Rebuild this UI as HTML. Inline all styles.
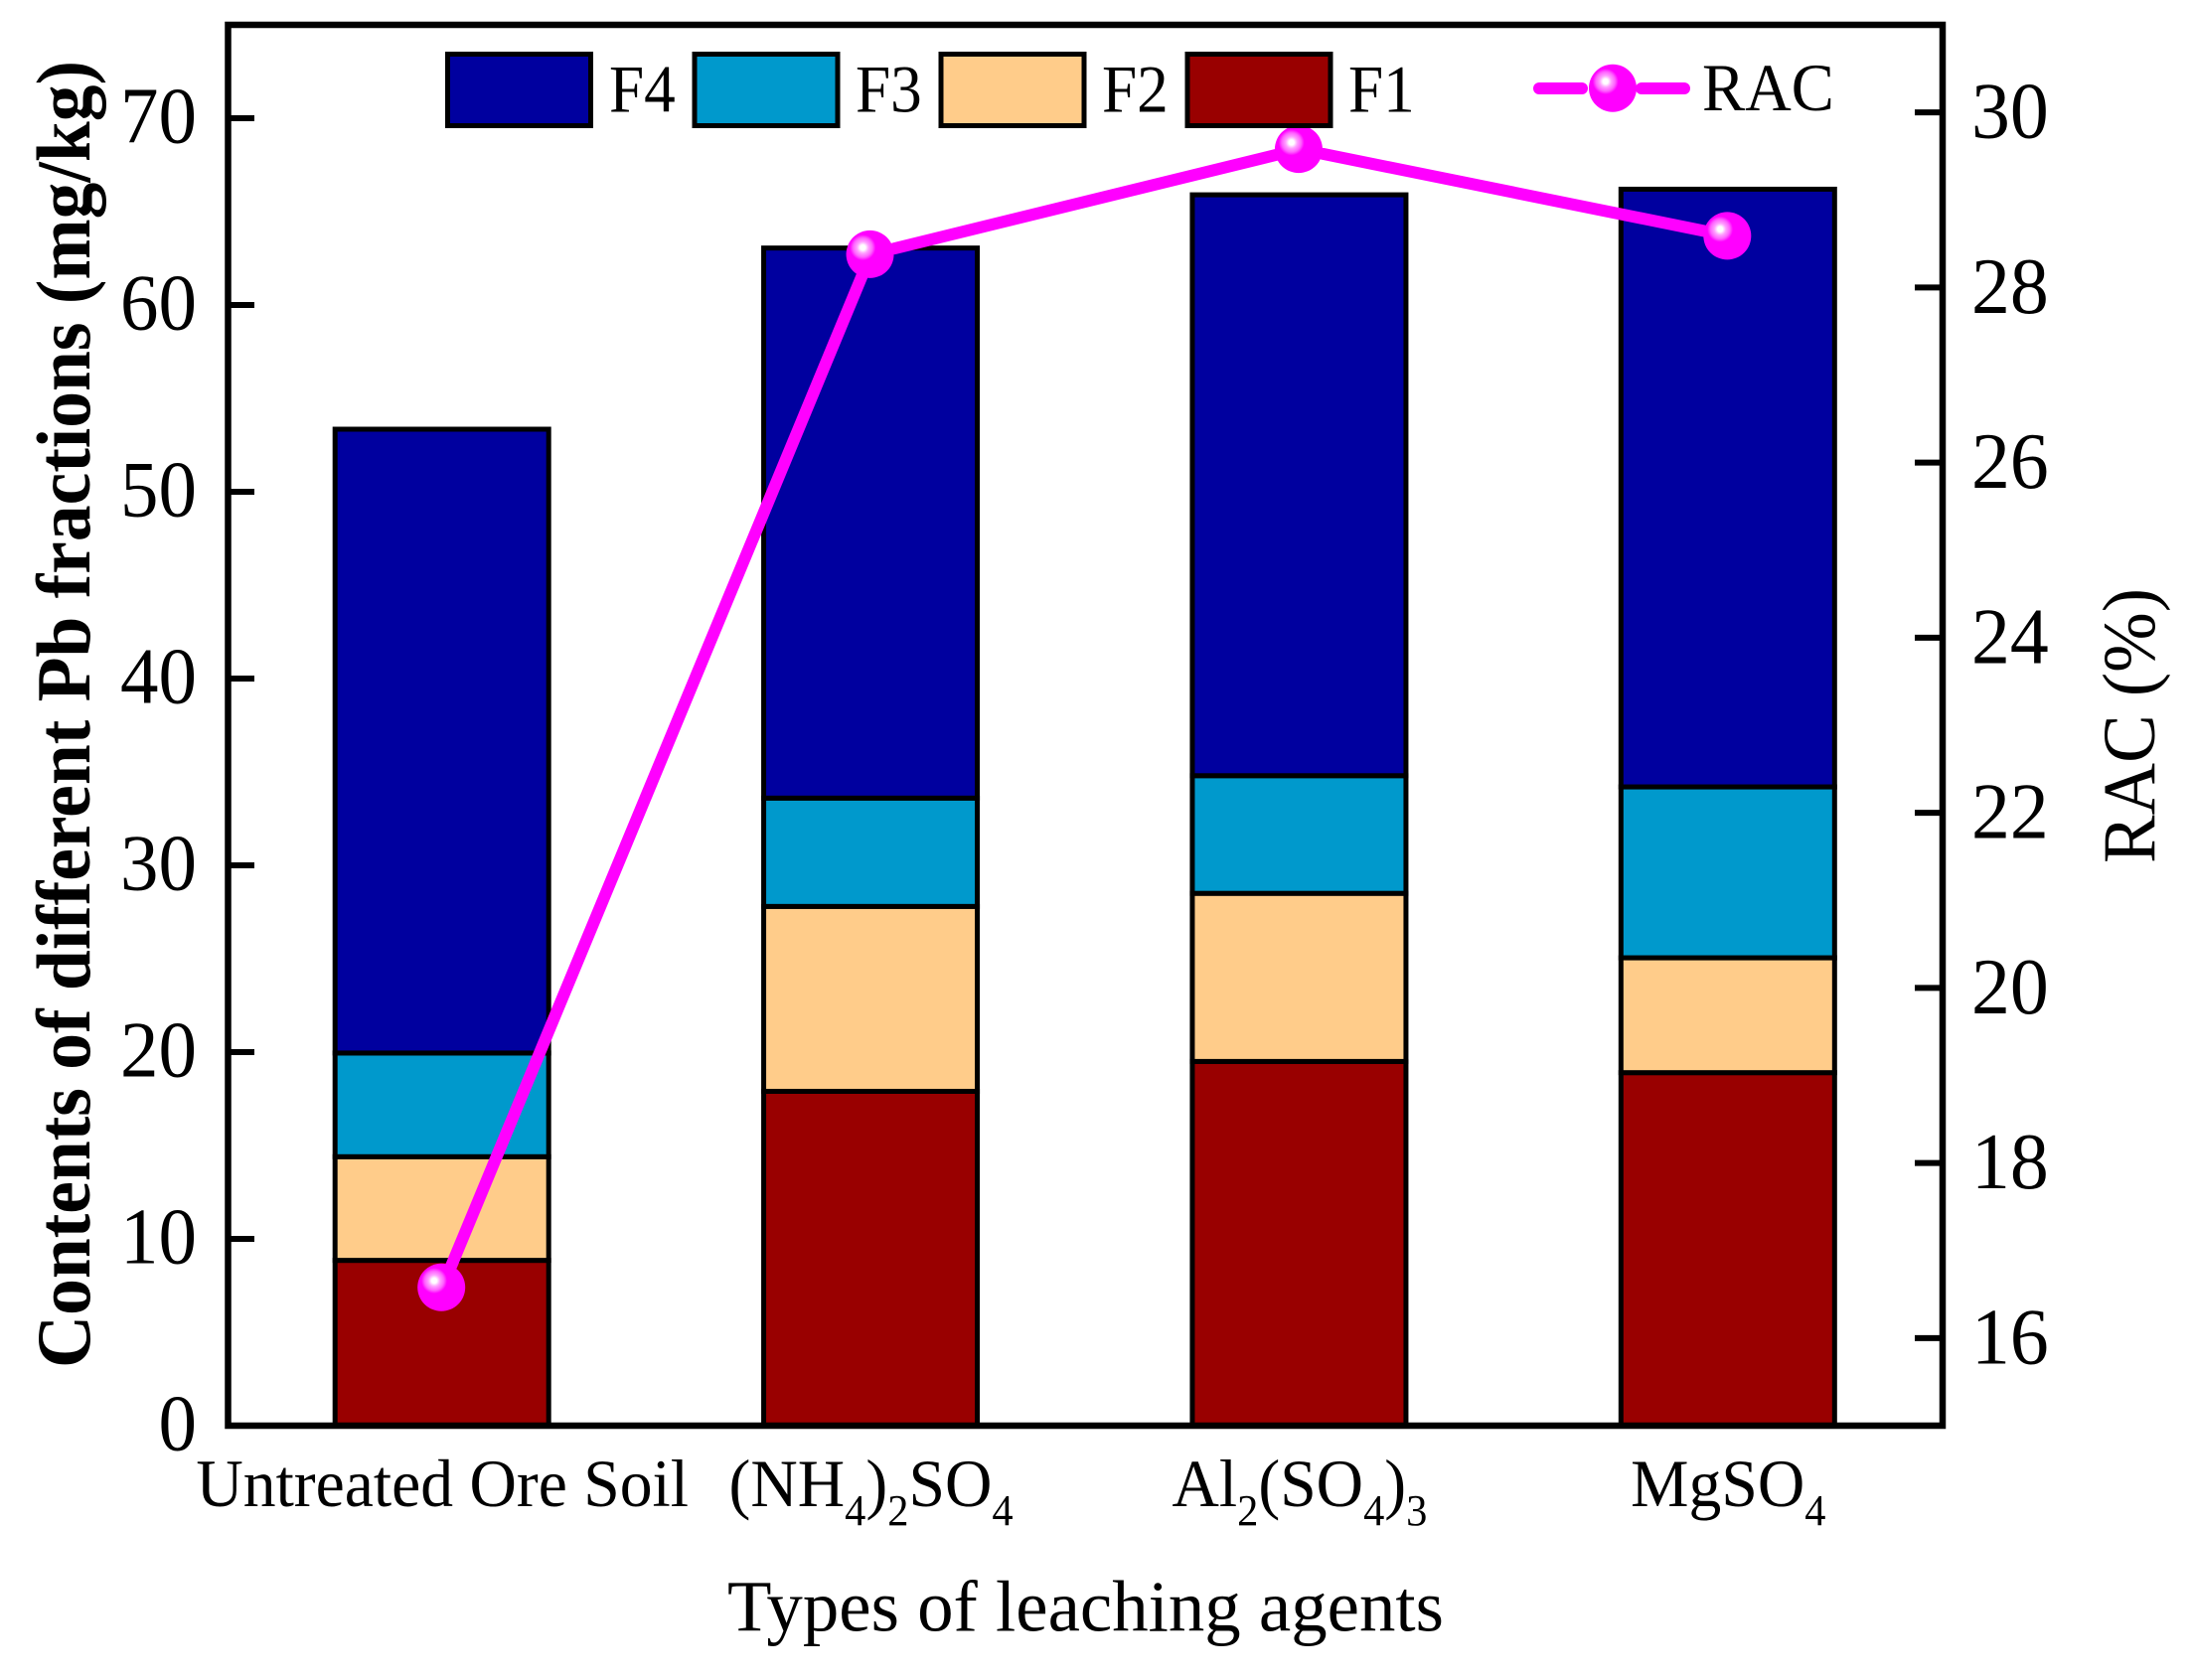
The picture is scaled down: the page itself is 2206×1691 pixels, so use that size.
<!DOCTYPE html>
<html lang="en">
<head>
<meta charset="utf-8">
<title>Pb fractions and RAC by leaching agent</title>
<style>
html,body{margin:0;padding:0;background:#fff;}
svg{display:block;}
text{font-family:"Liberation Serif",serif;fill:#000;}
</style>
</head>
<body>
<svg id="chart" xmlns="http://www.w3.org/2000/svg" width="2206" height="1691" viewBox="0 0 2206 1691">
  <defs>
    <radialGradient id="ball" cx="0.35" cy="0.36" r="0.27">
      <stop offset="0" stop-color="#ffffff"/>
      <stop offset="0.2" stop-color="#ffffff"/>
      <stop offset="0.45" stop-color="#ffa0ff"/>
      <stop offset="0.75" stop-color="#ff60ff"/>
      <stop offset="1" stop-color="#ff00ff"/>
    </radialGradient>
  </defs>
  <rect x="0" y="0" width="2206" height="1691" fill="#ffffff"/>
  <g id="bars"></g>
  <g id="rac"></g>
  <g id="ticks"></g>
  <rect x="229.5" y="25" width="1725.5" height="1410" fill="none" stroke="#000" stroke-width="6.5"/>
  <g id="labels" font-size="81"></g>

  <g>
    <rect x="450.5" y="54.5" width="144" height="72" fill="#00009f" stroke="#000" stroke-width="5"/>
    <text transform="translate(613,112.7) scale(0.93,1)" font-size="68">F4</text>
    <rect x="699" y="54.5" width="144" height="72" fill="#0099cc" stroke="#000" stroke-width="5"/>
    <text transform="translate(861,112.7) scale(0.93,1)" font-size="68">F3</text>
    <rect x="947" y="54.5" width="144" height="72" fill="#ffcc8a" stroke="#000" stroke-width="5"/>
    <text transform="translate(1109,112.7) scale(0.93,1)" font-size="68">F2</text>
    <rect x="1195" y="54.5" width="144" height="72" fill="#990000" stroke="#000" stroke-width="5"/>
    <text transform="translate(1357,112.7) scale(0.93,1)" font-size="68">F1</text>
    <line x1="1549" y1="89" x2="1592" y2="89" stroke="#ff00ff" stroke-width="12" stroke-linecap="round"/>
    <line x1="1652" y1="89" x2="1695" y2="89" stroke="#ff00ff" stroke-width="12" stroke-linecap="round"/>
    <circle cx="1623" cy="88.7" r="24" fill="url(#ball)"/>
    <text transform="translate(1713,111) scale(0.95,1)" font-size="68">RAC</text>
  </g>

  <text x="1092.5" y="1641.7" font-size="73" text-anchor="middle" textLength="721" lengthAdjust="spacingAndGlyphs">Types of leaching agents</text>
  <text transform="translate(90,719) scale(1.1,1) rotate(-90)" font-size="70" font-weight="bold" text-anchor="middle" textLength="1316" lengthAdjust="spacingAndGlyphs">Contents of different Pb fractions (mg/kg)</text>
  <text transform="translate(2168,730.5) rotate(-90)" font-size="75" text-anchor="middle" textLength="277" lengthAdjust="spacingAndGlyphs">RAC (%)</text>
</svg>

<script>
const categories = ['Untreated Ore Soil', '(NH4)2SO4', 'Al2(SO4)3', 'MgSO4'];
const f1Values = [8.85, 17.9, 19.5, 18.9];
const f2Values = [5.55, 9.9, 9.0, 6.15];
const f3Values = [5.55, 5.8, 6.3, 9.15];
const f4Values = [33.4, 29.45, 31.1, 32.0];
const racValues = [16.58, 28.38, 29.58, 28.59];
const leftTicks = [0, 10, 20, 30, 40, 50, 60, 70];
const rightTicks = [16, 18, 20, 22, 24, 26, 28, 30];

const SVGNS = 'http://www.w3.org/2000/svg';
const plotLeft = 229.5, plotRight = 1955, plotTop = 25, plotBottom = 1435;
const leftMax = 75, rightMin = 15, rightMax = 31;

function xScale(i) {
  return plotLeft + (i + 0.5) * (plotRight - plotLeft) / categories.length;
}
function yLeft(v) {
  return plotBottom - v * (plotBottom - plotTop) / leftMax;
}
function yRight(v) {
  return plotBottom - (v - rightMin) * (plotBottom - plotTop) / (rightMax - rightMin);
}
function make(tag, parent, attrs) {
  const el = document.createElementNS(SVGNS, tag);
  for (const k in attrs) el.setAttribute(k, attrs[k]);
  parent.appendChild(el);
  return el;
}

const barsLayer = document.getElementById('bars');
const racLayer = document.getElementById('rac');
const ticksLayer = document.getElementById('ticks');
const labelsLayer = document.getElementById('labels');

const stackSeries = [
  { key: 'f1', values: f1Values, color: '#990000' },
  { key: 'f2', values: f2Values, color: '#ffcc8a' },
  { key: 'f3', values: f3Values, color: '#0099cc' },
  { key: 'f4', values: f4Values, color: '#00009f' }
];
const barWidth = 215;

categories.forEach(function (cat, i) {
  let base = 0;
  stackSeries.forEach(function (s) {
    const top = base + s.values[i];
    const rect = make('rect', barsLayer, {
      x: xScale(i) - barWidth / 2 - 0.5,
      y: yLeft(top),
      width: barWidth,
      height: yLeft(base) - yLeft(top),
      fill: s.color,
      stroke: '#000',
      'stroke-width': 5
    });
    
    
    base = top;
  });
});

const markerRadius = 24;
const lineGap = 24;
racValues.forEach(function (v, i) {
  if (i === racValues.length - 1) return;
  const x1 = xScale(i), y1 = yRight(v);
  const x2 = xScale(i + 1), y2 = yRight(racValues[i + 1]);
  const d = Math.hypot(x2 - x1, y2 - y1);
  const ux = (x2 - x1) / d, uy = (y2 - y1) / d;
  const seg = make('line', racLayer, {
    x1: x1 + ux * lineGap,
    y1: y1 + uy * lineGap,
    x2: x2 - ux * lineGap,
    y2: y2 - uy * lineGap,
    stroke: '#ff00ff',
    'stroke-width': 12,
    'stroke-linecap': 'round'
  });
  
  
});
racValues.forEach(function (v, i) {
  const dot = make('circle', racLayer, {
    cx: xScale(i) - 1,
    cy: yRight(v),
    r: markerRadius,
    fill: 'url(#ball)'
  });
  
  
});

leftTicks.forEach(function (t) {
  const y = yLeft(t);
  if (t !== 0) {
    const tick = make('line', ticksLayer, { x1: 230, x2: 256, y1: y, y2: y, stroke: '#000', 'stroke-width': 6 });
    
    
  }
  const label = make('text', labelsLayer, {
    transform: 'translate(198,' + (y + 24.5) + ') scale(0.95,1)',
    'text-anchor': 'end'
  });
  label.textContent = String(t);
  
  
});

rightTicks.forEach(function (t) {
  const y = yRight(t);
  const tick = make('line', ticksLayer, { x1: 1927, x2: 1955, y1: y, y2: y, stroke: '#000', 'stroke-width': 6 });
  
  
  const label = make('text', labelsLayer, {
    transform: 'translate(1984,' + (y + 25.5) + ') scale(0.96,1)'
  });
  label.textContent = String(t);
  
  
});

categories.forEach(function (cat, i) {
  const label = make('text', labelsLayer, {
    transform: 'translate(' + xScale(i) + ',1516) scale(0.965,1)',
    'text-anchor': 'middle',
    'font-size': 68
  });
  
  
  const parts = cat.split(/(\d)/);
  let shifted = false;
  parts.forEach(function (p, idx) {
    if (!p) return;
    const isSub = idx % 2 === 1;
    const span = make('tspan', label, {});
    if (isSub && !shifted) span.setAttribute('dy', 19);
    if (!isSub && shifted) span.setAttribute('dy', -19);
    if (isSub) span.setAttribute('font-size', 44);
    span.textContent = p;
    shifted = isSub;
  });
});
</script>
</body>
</html>
